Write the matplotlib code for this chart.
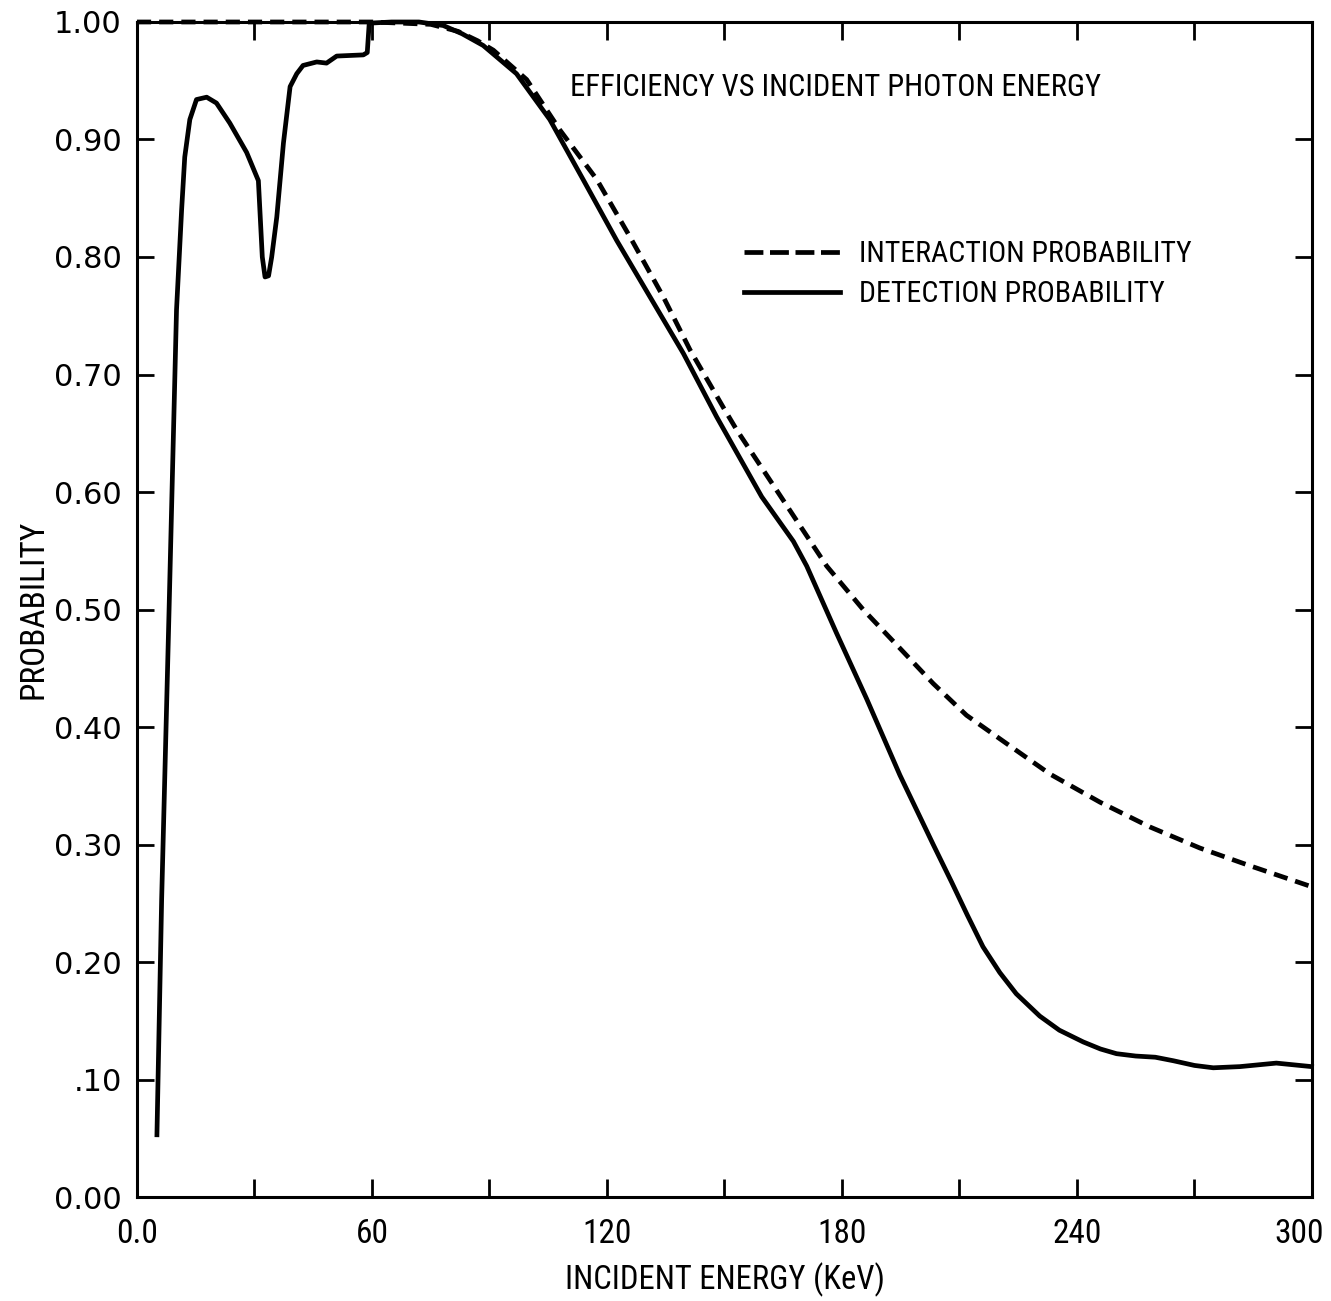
import numpy as np
import matplotlib.pyplot as plt
from matplotlib.lines import Line2D
from matplotlib.transforms import ScaledTranslation

# (keV, probability)
det_energy = [5.1, 6.3, 8.2, 10.1, 11.4, 12.2, 13.5, 15.2, 17.8, 20.3, 23.7, 28.0,
              31.0, 32.0, 32.7, 33.6, 34.4, 35.7, 37.4, 39.1, 40.8, 42.4, 45.9, 48.4,
              51.0, 57.8, 58.8, 59.3, 65.0, 72.0, 78.2, 83.0, 88.4, 96.9, 105.4,
              113.9, 122.5, 131.0, 139.5, 148.0, 159.5, 167.6, 171.0, 178.6, 186.3,
              194.8, 203.3, 208.0, 212.0, 216.0, 220.3, 224.5, 230.5, 235.5, 241.6,
              246.0, 250.1, 255.0, 260.0, 264.6, 270.0, 274.8, 281.6, 290.9, 299.9]
det_prob = [0.053, 0.253, 0.500, 0.755, 0.840, 0.885, 0.917, 0.934, 0.936, 0.931,
            0.914, 0.889, 0.865, 0.800, 0.783, 0.784, 0.800, 0.834, 0.897, 0.945,
            0.956, 0.963, 0.966, 0.965, 0.971, 0.972, 0.974, 0.999, 1.000, 1.000,
            0.997, 0.990, 0.980, 0.956, 0.917, 0.866, 0.814, 0.766, 0.718, 0.664,
            0.596, 0.558, 0.537, 0.480, 0.424, 0.359, 0.300, 0.268, 0.240, 0.213,
            0.191, 0.173, 0.154, 0.142, 0.132, 0.126, 0.122, 0.120, 0.119, 0.116,
            0.112, 0.110, 0.111, 0.114, 0.111]

int_energy = [0.0, 30.0, 60.0, 75.0, 82.0, 87.0, 91.0, 99.5, 108.0, 117.4, 125.9,
              134.4, 141.2, 149.7, 153.1, 165.0, 176.1, 185.4, 194.8, 203.3, 211.8,
              222.0, 233.1, 245.9, 258.6, 271.4, 284.1, 300.0]
int_prob = [1.000, 1.000, 1.000, 0.998, 0.992, 0.984, 0.976, 0.951, 0.908, 0.866,
            0.817, 0.766, 0.721, 0.672, 0.653, 0.593, 0.537, 0.500, 0.467, 0.437,
            0.410, 0.386, 0.360, 0.336, 0.315, 0.297, 0.282, 0.264]

x_ticks = np.arange(0, 301, 30)
x_labels = ["0.0", "", "60", "", "120", "", "180", "", "240", "", "300"]
y_ticks = np.arange(0, 1.01, 0.1)
y_labels = ["0.00", ".10", "0.20", "0.30", "0.40", "0.50", "0.60", "0.70",
            "0.80", "0.90", "1.00"]

narrow = ["Roboto Condensed", "DejaVu Sans"]

fig = plt.figure(figsize=(13.31, 13.01), dpi=100)
ax = fig.add_axes([0.1029, 0.0799, 0.8828, 0.9032])

ax.plot(int_energy, int_prob, color="black", lw=3.4, dashes=[3.0, 1.7],
        clip_on=False)
ax.plot(det_energy, det_prob, color="black", lw=3.4, clip_on=False)

ax.set_xlim(0, 300)
ax.set_ylim(0, 1.0)
ax.set_xticks(x_ticks)
ax.set_xticklabels(x_labels, family=narrow, fontsize=24)
ax.set_yticks(y_ticks)
ax.set_yticklabels(y_labels, family="DejaVu Sans", fontsize=22)
ax.tick_params(axis="both", direction="in", top=True, right=True, width=2)
ax.tick_params(axis="x", length=13, pad=15)
ax.tick_params(axis="y", length=12, pad=11)
for sp in ax.spines.values():
    sp.set_linewidth(2.2)

# last x label sits against the right edge in the original
lab = ax.get_xticklabels()[-1]
lab.set_transform(lab.get_transform() + ScaledTranslation(-9 / 72, 0, fig.dpi_scale_trans))

ax.set_xlabel("INCIDENT ENERGY (KeV)", family=narrow, fontsize=23.5, labelpad=9)
ax.set_ylabel("PROBABILITY", family=narrow, fontsize=24, labelpad=3)

ax.text(0.3685, 0.944, "EFFICIENCY VS INCIDENT PHOTON ENERGY", transform=ax.transAxes,
        ha="left", va="center", family=narrow, fontsize=22)

handles = [Line2D([], [], color="black", lw=3.4, dashes=[4.0, 1.4]),
           Line2D([], [], color="black", lw=3.4)]
ax.legend(handles, ["INTERACTION PROBABILITY", "DETECTION PROBABILITY"],
          loc="center left", bbox_to_anchor=(0.517, 0.7855), frameon=False,
          prop={"family": narrow, "size": 21.5},
          handlelength=3.2, handletextpad=0.65, labelspacing=0.4, borderpad=0,
          borderaxespad=0)

fig.savefig("out.png", dpi=100)
